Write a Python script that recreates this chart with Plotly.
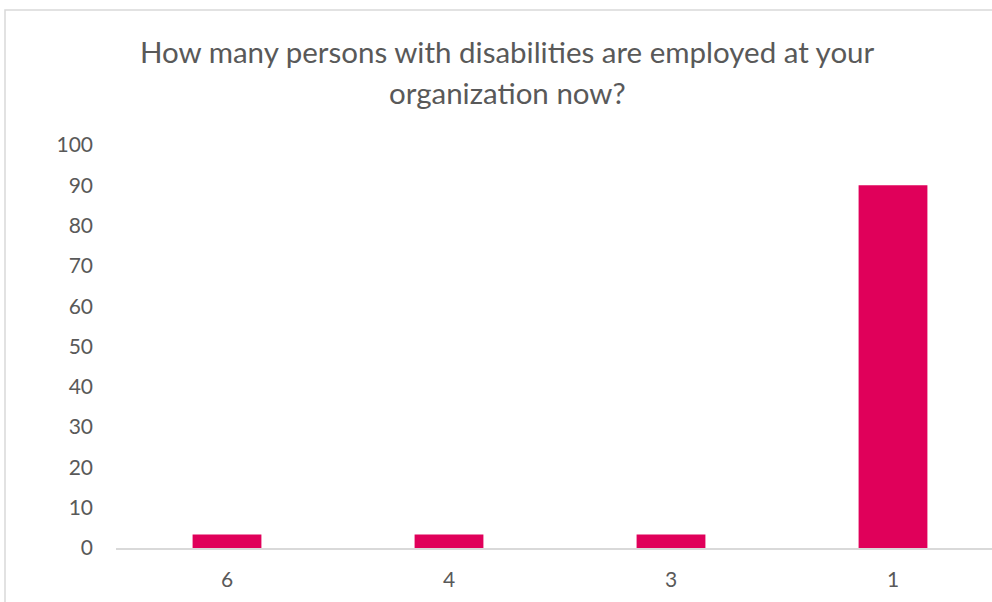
import plotly.graph_objects as go

# Survey responses: number of employees with disabilities
categories = ["6", "4", "3", "1"]
shares = [3.33, 3.33, 3.33, 90.0]
y_ticks = [0, 10, 20, 30, 40, 50, 60, 70, 80, 90, 100]

title_lines = [
    "How many persons with disabilities are employed at your",
    "organization now?",
]

BAR_COLOR = "#E0005A"
TEXT_COLOR = "#595959"
LINE_COLOR = "#D9D9D9"
FONT = "Lato"

W, H = 992, 602
ML, MR, MT, MB = 116, 0, 145, 54
plot_w = W - ML - MR
plot_h = H - MT - MB

fig = go.Figure(
    go.Bar(
        x=categories,
        y=shares,
        marker=dict(color=BAR_COLOR, line=dict(width=0)),
        width=0.31,
    )
)

# category slot width in pixels, so the axis continues past the right edge
slot_px = 222
x_right = plot_w / slot_px - 0.5

fig.update_layout(
    width=W,
    height=H,
    margin=dict(l=ML, r=MR, t=MT, b=MB, pad=0),
    paper_bgcolor="white",
    plot_bgcolor="white",
    showlegend=False,
    font=dict(family=FONT, color=TEXT_COLOR, size=21),
    xaxis=dict(
        type="category",
        range=[-0.5, x_right],
        showgrid=False,
        showline=True,
        linecolor=LINE_COLOR,
        linewidth=1.5,
        ticks="",
        tickfont=dict(size=21, color=TEXT_COLOR),
        ticklabelstandoff=12,
        zeroline=False,
    ),
    yaxis=dict(
        range=[0, 100],
        tickvals=y_ticks,
        showgrid=False,
        showline=False,
        zeroline=False,
        ticks="",
        tickfont=dict(size=21, color=TEXT_COLOR),
        ticklabelstandoff=22,
    ),
)

# chart border
def px_x(p):
    return (p - ML) / plot_w

def px_y(p):
    return (H - MB - p) / plot_h

fig.add_shape(
    type="rect",
    xref="paper", yref="paper",
    x0=px_x(5), x1=px_x(W + 20),
    y0=px_y(H + 20), y1=px_y(10),
    line=dict(color=LINE_COLOR, width=1.5),
    fillcolor="rgba(0,0,0,0)",
    layer="below",
)

# two-line title
for line, ypix in zip(title_lines, [52, 92]):
    fig.add_annotation(
        text=line,
        xref="paper", yref="paper",
        x=px_x(507), y=px_y(ypix),
        xanchor="center", yanchor="middle",
        showarrow=False,
        font=dict(family=FONT, size=29.5, color=TEXT_COLOR),
    )

fig.write_html("out.html")
